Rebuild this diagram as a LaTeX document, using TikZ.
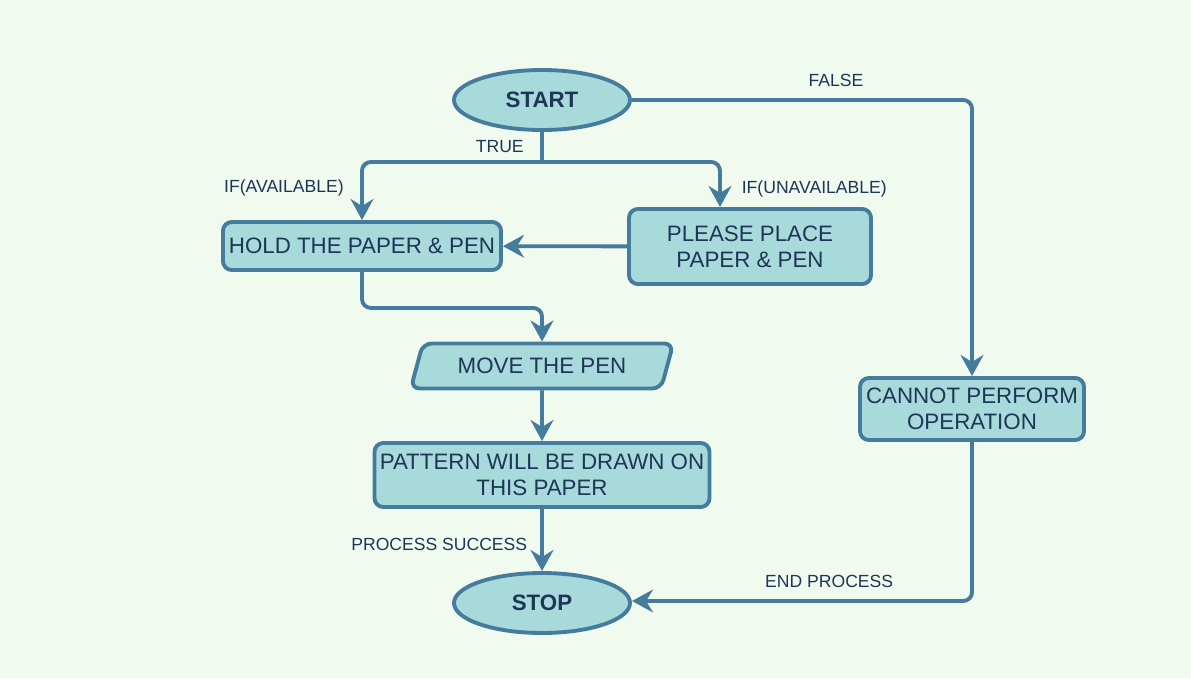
\documentclass[tikz,border=0pt]{standalone}
\usepackage{fontspec}
\setmainfont{Liberation Sans}
\usetikzlibrary{positioning,shapes.geometric,arrows.meta}

\definecolor{bgcol}{HTML}{F1FAEE}
\definecolor{boxfill}{HTML}{A8DADC}
\definecolor{boxline}{HTML}{457B9D}
\definecolor{boxtext}{HTML}{1D3557}

\tikzset{
  terminal/.style={ellipse,draw=boxline,fill=boxfill,line width=2.2pt,text=boxtext,
    font=\fontsize{12.7}{15}\selectfont\bfseries,minimum width=3.52cm,minimum height=1.2cm},
  process/.style={rectangle,rounded corners=5pt,draw=boxline,fill=boxfill,line width=2.2pt,
    text=boxtext,font=\fontsize{12.7}{15}\selectfont,align=center,inner sep=2pt},
  inout/.style={trapezium,trapezium left angle=62,trapezium right angle=118,
    trapezium stretches body,rounded corners=5pt,draw=boxline,fill=boxfill,line width=2.2pt,
    text=boxtext,font=\fontsize{12.7}{15}\selectfont,inner sep=2pt},
  flow/.style={draw=boxline,line width=2.2pt,rounded corners=5pt,
    -{Stealth[length=12pt,width=13pt,inset=4pt]}},
  lbl/.style={text=boxtext,font=\fontsize{10}{12}\selectfont},
}

\begin{document}
\begin{tikzpicture}[on grid]

  % Sfondo
  \fill[bgcol] (0,0) rectangle (23.82,-13.56);

  % Nodi
  \node[terminal] (start) at (10.84,-2) {START};
  \coordinate[below=1.24cm of start] (split);
  \node[process,minimum width=5.56cm,minimum height=0.96cm,below left=2.92cm and 3.6cm of start] (hold) {HOLD THE PAPER \& PEN};
  \node[process,minimum width=4.84cm,minimum height=1.5cm,below right=2.93cm and 4.16cm of start] (please) {PLEASE PLACE\\PAPER \& PEN};
  \node[inout,minimum width=5.25cm,minimum height=0.9cm,below=5.32cm of start] (move) {MOVE THE PEN};
  \node[process,minimum width=6.7cm,minimum height=1.28cm,below=2.18cm of move] (pattern) {PATTERN WILL BE DRAWN ON\\THIS PAPER};
  \node[terminal,below=2.56cm of pattern] (stop) {STOP};
  \node[process,minimum width=4.48cm,minimum height=1.24cm,below right=6.18cm and 8.6cm of start] (cannot) {CANNOT PERFORM\\OPERATION};

  % Collegamenti
  \draw[boxline,line width=2.2pt] (start) -- node[lbl,left=6pt] {TRUE} (split);
  \draw[flow] (split) -| node[lbl,pos=0.72,left=6pt] {IF(AVAILABLE)} (hold);
  \draw[flow] (split) -| node[lbl,pos=0.8,right=8pt] {IF(UNAVAILABLE)} ([xshift=-0.6cm]please.north);
  \draw[flow] (please) -- (hold);
  \draw[flow] (hold.south) -- ++(0,-0.72) -| (move);
  \draw[flow] (move) -- (pattern);
  \draw[flow] (pattern) -- node[lbl,pos=0.57,left=4pt] {PROCESS SUCCESS} (stop);
  \draw[flow] (start) -| node[lbl,pos=0.3,above=3pt] {FALSE} (cannot);
  \draw[flow] (cannot) |- node[lbl,pos=0.71,above=3pt] {END PROCESS} ([yshift=0.04cm]stop.east);

\end{tikzpicture}
\end{document}
